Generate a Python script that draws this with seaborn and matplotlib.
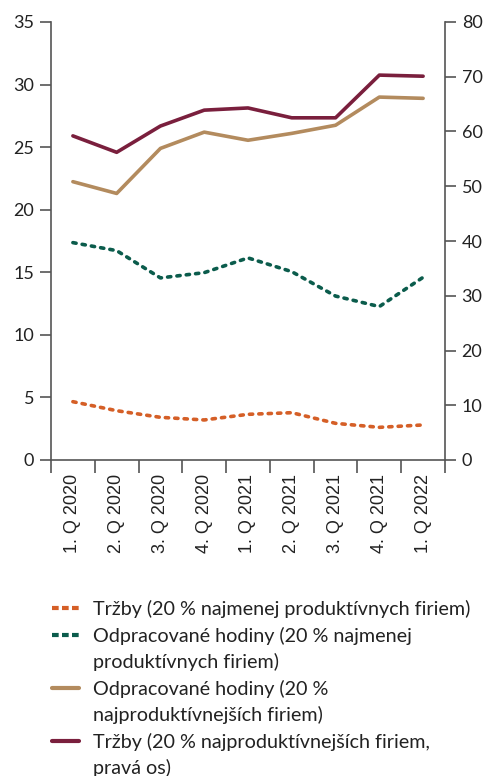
import numpy as np
import pandas as pd
import matplotlib
matplotlib.use("Agg")
import matplotlib.pyplot as plt
import seaborn as sns
from matplotlib.lines import Line2D

sns.set_theme(style="white")
plt.rcParams["font.family"] = ["Lato", "DejaVu Sans"]

quarters = ["1. Q 2020", "2. Q 2020", "3. Q 2020", "4. Q 2020", "1. Q 2021",
            "2. Q 2021", "3. Q 2021", "4. Q 2021", "1. Q 2022"]
trzby_low = [4.66, 3.94, 3.41, 3.20, 3.65, 3.78, 2.93, 2.61, 2.80]
hodiny_low = [17.37, 16.73, 14.55, 14.97, 16.15, 15.05, 13.10, 12.26, 14.60]
hodiny_top = [22.24, 21.30, 24.90, 26.20, 25.55, 26.10, 26.75, 29.00, 28.90]
trzby_top = [59.2, 56.2, 61.0, 63.9, 64.3, 62.5, 62.5, 70.3, 70.1]

# legend labels, one list per series (wrapped lines)
labels = [
    ["Tržby (20 % najmenej produktívnych firiem)"],
    ["Odpracované hodiny (20 % najmenej", "produktívnych firiem)"],
    ["Odpracované hodiny (20 %", "najproduktívnejších firiem)"],
    ["Tržby (20 % najproduktívnejších firiem,", "pravá os)"],
]
colors = ["#D55F27", "#0B5C4C", "#B38B5E", "#7A1F3D"]

pos = np.arange(len(quarters))
df = pd.DataFrame({"pos": pos, "tl": trzby_low, "hl": hodiny_low,
                   "ht": hodiny_top, "tt": trzby_top})

W, H = 486, 776
fig = plt.figure(figsize=(W / 100, H / 100), dpi=100)
ax = fig.add_axes([51 / W, 1 - 460 / H, (445 - 51) / W, (460 - 22) / H])
ax2 = ax.twinx()

lw = 2.6
dash = (0, (0.9, 1.7))
sns.lineplot(data=df, x="pos", y="tl", ax=ax, color=colors[0], lw=lw, linestyle=dash,
             dash_capstyle="round")
sns.lineplot(data=df, x="pos", y="hl", ax=ax, color=colors[1], lw=lw, linestyle=dash,
             dash_capstyle="round")
sns.lineplot(data=df, x="pos", y="ht", ax=ax, color=colors[2], lw=lw)
sns.lineplot(data=df, x="pos", y="tt", ax=ax2, color=colors[3], lw=lw)

ax.set_xlim(-0.5, len(quarters) - 0.5)
ax.set_ylim(0, 35)
ax2.set_ylim(0, 80)
ax.set_yticks(np.arange(0, 36, 5))
ax2.set_yticks(np.arange(0, 81, 10))
ax.set_xticks(np.arange(-0.5, len(quarters), 1.0))
ax.set_xticklabels([])
ax.set_xticks(pos, minor=True)
ax.set_xticklabels(quarters, minor=True, rotation=90, fontsize=13,
                   family=["Liberation Sans", "DejaVu Sans"], color="#222222")
ax.tick_params(axis="x", which="minor", length=0, pad=10)
ax.tick_params(axis="x", which="major", length=9, width=1.2, color="#555555",
               direction="out", bottom=True)
ax.tick_params(axis="y", length=8, width=1.2, color="#555555", labelsize=13,
               labelcolor="#222222", left=True, pad=4)
ax2.tick_params(axis="y", length=8, width=1.2, color="#555555", labelsize=13,
                labelcolor="#222222", right=True, pad=4)
for a in (ax, ax2):
    a.set_xlabel("")
    a.set_ylabel("")
    for s in a.spines.values():
        s.set_color("#555555")
        s.set_linewidth(1.2)
    a.spines["top"].set_visible(False)
ax.spines["right"].set_visible(False)
ax2.spines["left"].set_visible(False)
ax2.spines["bottom"].set_visible(False)

styles = [(0, (1.6, 0.8)), (0, (1.6, 0.8)), "-", "-"]
handles, texts = [], []
for c, st, lines in zip(colors, styles, labels):
    for i, line in enumerate(lines):
        if i == 0:
            handles.append(Line2D([], [], color=c, lw=3, linestyle=st))
        else:
            handles.append(Line2D([], [], color="none", lw=0))
        texts.append(line)

leg = fig.legend(handles, texts, loc="upper left", bbox_to_anchor=(52 / W, 1 - 600 / H),
                 frameon=False, fontsize=14.2, handlelength=1.35, handletextpad=0.72,
                 labelspacing=0.43, borderaxespad=0, borderpad=0)
for t in leg.get_texts():
    t.set_color("#222222")

fig.savefig("out.png", dpi=100)
